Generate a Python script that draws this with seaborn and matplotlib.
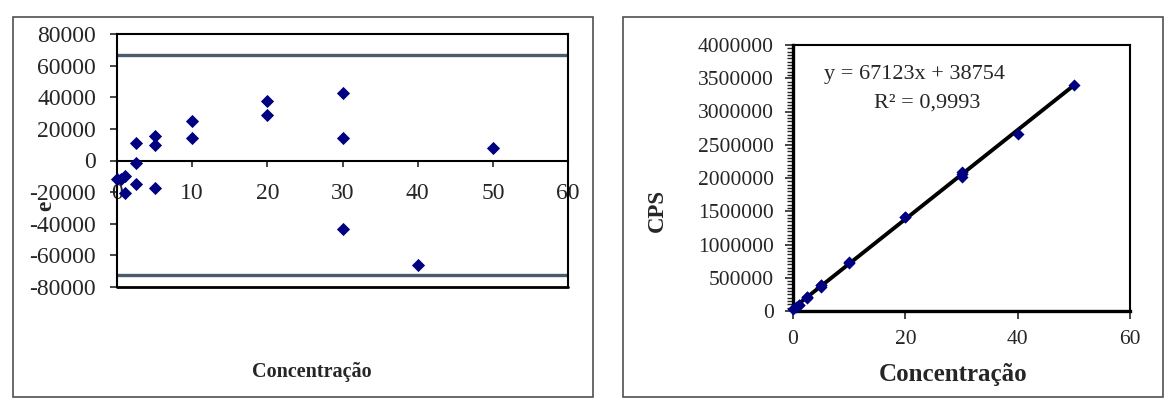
import matplotlib
matplotlib.use('Agg')
import matplotlib.pyplot as plt
import matplotlib.patches as mpatches
from matplotlib.ticker import MultipleLocator
import pandas as pd
import seaborn as sns

# residuals (left chart)
conc_res = [0, 0.5, 1, 1, 2.5, 2.5, 2.5, 5, 5, 5, 10, 10, 20, 20, 30, 30, 30, 40, 50]
resid = [-12000, -12000, -10000, -20500, 11000, -1500, -15000, 15500, 9500, -17500,
         25000, 14500, 37500, 29000, 42700, 14000, -43500, -66000, 8000]
upper_limit = 66700
lower_limit = -72400

# calibration curve (right chart)
conc_cal = [0, 0.5, 1, 1, 2.5, 2.5, 2.5, 5, 5, 5, 10, 10, 20, 20, 30, 30, 30, 40, 50]
cps = [27000, 60000, 96000, 85000, 218000, 205000, 192000, 390000, 384000, 357000,
       735000, 724000, 1418000, 1410000, 2095000, 2066000, 2009000, 2658000, 3403000]
equation = 'y = 67123x + 38754'
r2_text = 'R² = 0,9993'

sns.set_style('white')
plt.rcParams['font.family'] = ['Liberation Serif', 'DejaVu Serif']
plt.rcParams['axes.unicode_minus'] = False

df_res = pd.DataFrame({'Concentração': conc_res, 'e': resid})
df_cal = pd.DataFrame({'Concentração': conc_cal, 'CPS': cps})

fig = plt.figure(figsize=(11.67, 3.99), dpi=100)
W, H = 1167, 399

def fig_box(x0, y0, x1, y1):
    return [x0 / W, 1 - y1 / H, (x1 - x0) / W, (y1 - y0) / H]

# outer chart-area frames
for x0, x1 in [(13, 593), (623, 1163)]:
    fig.patches.append(mpatches.Rectangle((x0 / W, 1 - 397 / H), (x1 - x0) / W, 380 / H,
                                          transform=fig.transFigure, fill=False,
                                          edgecolor='#505050', lw=1.2))

navy = '#000080'

# ---- left: residuals ----
ax1 = fig.add_axes(fig_box(117, 34, 568, 287))
sns.scatterplot(data=df_res, x='Concentração', y='e', ax=ax1, marker='D', s=45,
                color=navy, edgecolor=navy, linewidth=0, clip_on=False, zorder=5)
ax1.axhline(upper_limit, color='#4a5b70', lw=2.4)
ax1.axhline(lower_limit, color='#4a5b70', lw=2.4)
ax1.set_xlim(0, 60)
ax1.set_ylim(-80000, 80000)
ax1.set_xticks(range(0, 61, 10))
ax1.set_yticks(range(-80000, 80001, 20000))
ax1.spines['bottom'].set_position(('data', 0))
for sp in ax1.spines.values():
    sp.set_color('black')
    sp.set_linewidth(1.5)
ax1.axhline(-80000, color='black', lw=2, clip_on=False)
ax1.tick_params(axis='x', direction='out', length=4, width=1.2, pad=12, labelsize=17, bottom=True)
ax1.tick_params(axis='y', direction='out', length=5, width=1.2, pad=10, labelsize=17, left=True)
ax1.set_xlabel('')
ax1.set_ylabel('e', fontsize=17, fontweight='bold')
ax1.yaxis.set_label_coords(-0.135, 0.32)
fig.text(312 / W, 1 - 372 / H, 'Concentração', ha='center', va='center',
         fontsize=14.5, fontweight='bold')

# ---- right: calibration curve ----
ax2 = fig.add_axes(fig_box(793, 45, 1130, 311))
sns.regplot(data=df_cal, x='Concentração', y='CPS', ax=ax2, scatter=False, ci=None,
            color='black', line_kws={'lw': 2.8})
sns.scatterplot(data=df_cal, x='Concentração', y='CPS', ax=ax2, marker='D', s=38,
                color=navy, edgecolor=navy, linewidth=0, clip_on=False, zorder=5)
ax2.set_xlim(0, 60)
ax2.set_ylim(0, 4000000)
ax2.set_xticks(range(0, 61, 20))
ax2.set_yticks(range(0, 4000001, 500000))
ax2.yaxis.set_minor_locator(MultipleLocator(50000))
ax2.ticklabel_format(style='plain', axis='y')
for sp in ax2.spines.values():
    sp.set_color('black')
    sp.set_linewidth(1.5)
ax2.spines['left'].set_linewidth(2.4)
ax2.spines['bottom'].set_linewidth(2.4)
ax2.tick_params(axis='x', direction='out', length=6, width=1.2, pad=8, labelsize=15.5, bottom=True)
ax2.tick_params(axis='y', which='major', direction='out', length=6, width=1.2, pad=8,
                labelsize=15.5, left=True)
ax2.tick_params(axis='y', which='minor', direction='out', length=4, width=1, left=True)
ax2.set_xlabel('')
ax2.set_ylabel('')
fig.text(657 / W, 1 - 210 / H, 'CPS', rotation=90, ha='center', va='center',
         fontsize=16.5, fontweight='bold')
fig.text(953 / W, 1 - 374 / H, 'Concentração', ha='center', va='center',
         fontsize=18, fontweight='bold')
fig.text(915 / W, 1 - 74 / H, equation, ha='center', va='center', fontsize=16)
fig.text(927 / W, 1 - 103 / H, r2_text, ha='center', va='center', fontsize=16)

fig.savefig('out.png', dpi=100)
